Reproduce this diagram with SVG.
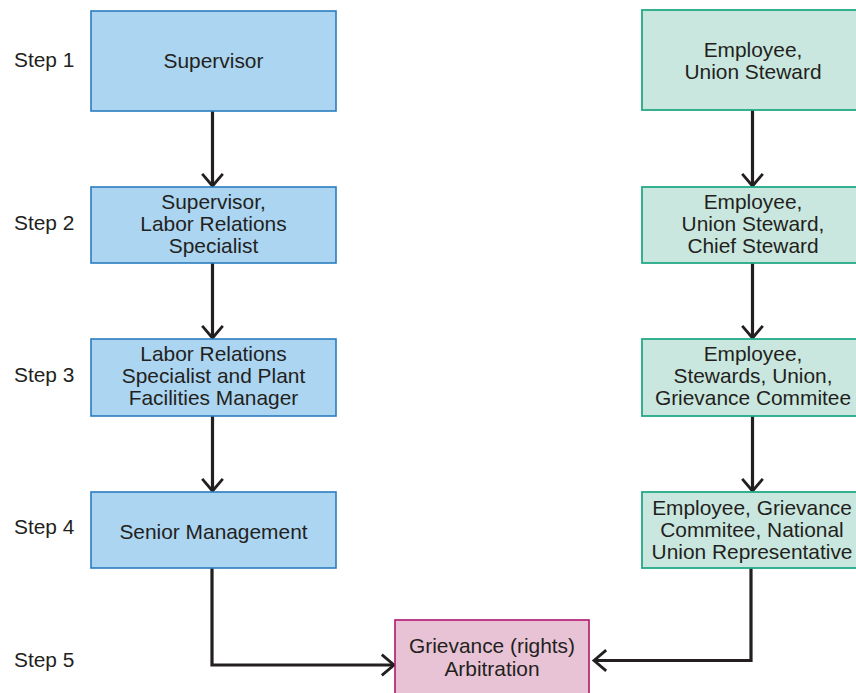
<svg xmlns="http://www.w3.org/2000/svg" width="856" height="693" viewBox="0 0 856 693">
<defs>
<style>
text{font-family:"Liberation Sans",Arial,Helvetica,sans-serif;font-size:20.9px;fill:#231f20}
.c{text-anchor:middle}
.blue{fill:#abd5f1;stroke:#2b7cc0;stroke-width:1.6}
.green{fill:#c9e7de;stroke:#22a986;stroke-width:1.8}
.pink{fill:#e8c3d5;stroke:#b0166e;stroke-width:1.6}
.conn{fill:none;stroke:#231f20;stroke-width:3.2;stroke-linejoin:miter}
</style>
<marker id="ah" markerUnits="userSpaceOnUse" markerWidth="30" markerHeight="30" viewBox="-16 -16 20 32" refX="0" refY="0" orient="auto">
<path d="M-13,-11 L0,0 L-13,11" fill="none" stroke="#231f20" stroke-width="3"/>
</marker>
</defs>
<rect width="856" height="693" fill="#ffffff"/>

<g id="step-labels">
<text x="14" y="67">Step 1</text>
<text x="14" y="230">Step 2</text>
<text x="14" y="382">Step 3</text>
<text x="14" y="534">Step 4</text>
<text x="14" y="667">Step 5</text>
</g>

<g id="connectors">
<path class="conn" d="M212.5,111 V186" marker-end="url(#ah)"/>
<path class="conn" d="M212.5,263 V338" marker-end="url(#ah)"/>
<path class="conn" d="M212.5,416 V491" marker-end="url(#ah)"/>
<path class="conn" d="M212,568 V665 H394" marker-end="url(#ah)"/>
<path class="conn" d="M752.5,110 V186" marker-end="url(#ah)"/>
<path class="conn" d="M752.5,263 V338" marker-end="url(#ah)"/>
<path class="conn" d="M752.5,416 V491" marker-end="url(#ah)"/>
<path class="conn" d="M751,568 V660.5 H594" marker-end="url(#ah)"/>
</g>

<g id="m1"><rect class="blue" x="91" y="11" width="245" height="100"/>
<text class="c" x="213.5" y="68">Supervisor</text></g>
<g id="m2"><rect class="blue" x="91" y="187" width="245" height="76"/>
<text class="c" x="213.5" y="209">Supervisor,</text>
<text class="c" x="213.5" y="231">Labor Relations</text>
<text class="c" x="213.5" y="253">Specialist</text></g>
<g id="m3"><rect class="blue" x="91" y="339" width="245" height="77"/>
<text class="c" x="213.5" y="361">Labor Relations</text>
<text class="c" x="213.5" y="383">Specialist and Plant</text>
<text class="c" x="213.5" y="405">Facilities Manager</text></g>
<g id="m4"><rect class="blue" x="91" y="492" width="245" height="76"/>
<text class="c" x="213.5" y="539">Senior Management</text></g>

<g id="u1"><rect class="green" x="642" y="10" width="222" height="100"/>
<text class="c" x="753" y="57">Employee,</text>
<text class="c" x="753" y="79">Union Steward</text></g>
<g id="u2"><rect class="green" x="642" y="187" width="222" height="76"/>
<text class="c" x="753" y="209">Employee,</text>
<text class="c" x="753" y="231">Union Steward,</text>
<text class="c" x="753" y="253">Chief Steward</text></g>
<g id="u3"><rect class="green" x="642" y="339" width="222" height="77"/>
<text class="c" x="753" y="361">Employee,</text>
<text class="c" x="753" y="383">Stewards, Union,</text>
<text class="c" x="753" y="405">Grievance Commitee</text></g>
<g id="u4"><rect class="green" x="642" y="492" width="222" height="76"/>
<text class="c" x="752" y="515">Employee, Grievance</text>
<text class="c" x="752" y="537">Commitee, National</text>
<text class="c" x="752" y="559">Union Representative</text></g>

<g id="arb"><rect class="pink" x="395" y="620" width="194" height="85"/>
<text class="c" x="492" y="653">Grievance (rights)</text>
<text class="c" x="492" y="676">Arbitration</text></g>
</svg>
